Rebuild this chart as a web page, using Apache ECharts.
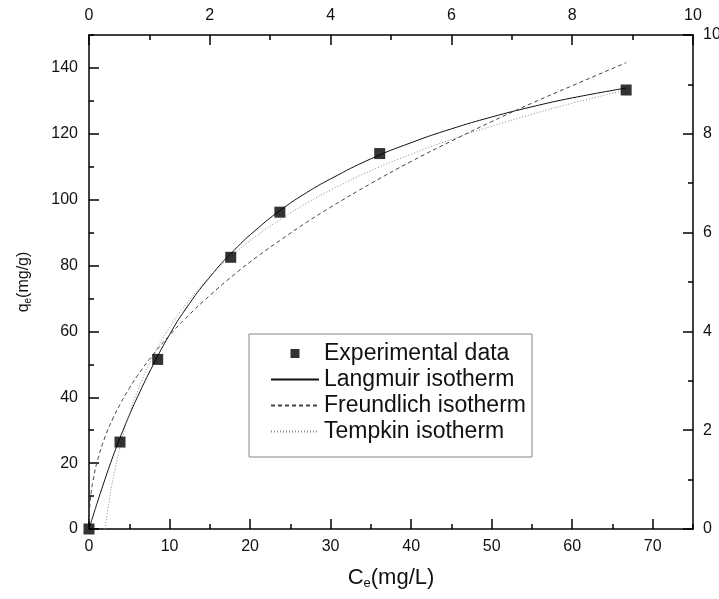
<!DOCTYPE html>
<html>
<head>
<meta charset="utf-8">
<script src="https://cdn.jsdelivr.net/npm/echarts@6/dist/echarts.min.js"></script>
<style>html,body{margin:0;padding:0;background:#fff}#c{width:719px;height:599px}</style>
</head>
<body>
<div id="c"></div>
<script>
// Experimental points
const expC = [0, 3.85, 8.53, 17.6, 23.7, 36.1, 66.7];
const expQ = [0, 26.4, 51.5, 82.5, 96.2, 114.0, 133.3];
// Fitted curves
const fitC = [0, 0.1, 0.25, 0.5, 1, 2, 3, 4, 5, 6, 8, 10, 12, 15, 18, 21, 24, 27, 30, 35, 40, 45, 50, 55, 60, 66.7];
const langmuirQ = [0, 0.8, 2.0, 3.9, 7.8, 15.2, 22.2, 28.6, 34.5, 40.0, 50.0, 59.0, 66.8, 76.5, 84.6, 91.4, 97.2, 102.1, 106.3, 112.4, 117.3, 121.5, 125.1, 128.2, 130.9, 133.9];
const freundlichQ = [0, 7.0, 10.7, 14.7, 20.3, 28.0, 33.7, 38.5, 42.7, 46.5, 53.1, 58.8, 64.0, 70.9, 77.2, 82.9, 88.1, 93.1, 97.7, 104.9, 111.6, 117.8, 123.7, 129.3, 134.6, 141.6];
const tempkinC = [2, 2.5, 3, 4, 5, 6, 8, 10, 12, 15, 18, 21, 24, 27, 30, 35, 40, 45, 50, 55, 60, 66.7];
const tempkinQ = [0, 8.5, 15.4, 26.3, 34.8, 41.7, 52.7, 61.2, 68.1, 76.6, 83.5, 89.4, 94.4, 98.9, 102.9, 108.8, 113.8, 118.3, 122.3, 125.9, 129.3, 133.3];
const seriesNames = ['Experimental data', 'Langmuir isotherm', 'Freundlich isotherm', 'Tempkin isotherm'];

const FONT = '"Liberation Sans", Arial, sans-serif';
const pair = (xs, ys) => xs.map((x, i) => [x, ys[i]]);
const axisLine = { show: true, onZero: false, lineStyle: { color: '#000', width: 1.5 } };
const majorTick = { show: true, inside: true, length: 10, lineStyle: { color: '#000', width: 1.5 } };
const minorTickAxis = { show: true, inside: true, length: 5, lineStyle: { color: '#000', width: 1.5 } };
const label = (margin, extra) => Object.assign({ margin, fontSize: 16, color: '#111', fontFamily: FONT }, extra || {});

const chart = echarts.init(document.getElementById('c'), null, { renderer: 'canvas' });
chart.setOption({
  animation: false,
  backgroundColor: '#fff',
  grid: { left: 89, right: 26, top: 35, bottom: 70, containLabel: false, outerBoundsMode: 'none' },
  legend: {
    orient: 'vertical', left: 249, top: 334,
    padding: [8, 6, 14, 21], itemGap: 3, itemWidth: 48, itemHeight: 9, itemTextGap: 9,
    borderColor: '#888', borderWidth: 1, backgroundColor: '#fff',
    textStyle: { fontSize: 23, lineHeight: 23, color: '#111', fontFamily: FONT },
    data: [
      { name: seriesNames[0], icon: 'path://M0,0h10v10h-10z' },
      { name: seriesNames[1] },
      { name: seriesNames[2] },
      { name: seriesNames[3] }
    ]
  },
  xAxis: [
    {
      type: 'value', position: 'bottom', min: 0, max: 75, interval: 10,
      axisLine, axisTick: majorTick, splitLine: { show: false },
      axisLabel: label(10, { showMaxLabel: false }),
      name: '{a|C}{s|e}{a|(mg/L)}', nameLocation: 'middle', nameGap: 37,
      nameTextStyle: { rich: {
        a: { fontSize: 22, color: '#111', fontFamily: FONT },
        s: { fontSize: 13, color: '#111', fontFamily: FONT, padding: [11, 0, 0, 0] }
      } }
    },
    {
      type: 'value', position: 'top', min: 0, max: 10, interval: 2,
      axisLine, axisTick: majorTick, splitLine: { show: false },
      minorTick: { show: true, splitNumber: 2, length: 5, lineStyle: { color: '#000', width: 1.5 } },
      minorSplitLine: { show: false },
      axisLabel: label(11)
    },
    {
      type: 'value', position: 'bottom', min: 0, max: 75, interval: 5,
      axisLine: { show: false, onZero: false }, axisTick: minorTickAxis,
      axisLabel: { show: false }, splitLine: { show: false }
    }
  ],
  yAxis: [
    {
      type: 'value', position: 'left', min: 0, max: 150, interval: 20,
      axisLine, axisTick: majorTick, splitLine: { show: false },
      axisLabel: label(11, { showMaxLabel: false }),
      name: '{a|q}{s|e}{a|(mg/g)}', nameLocation: 'middle', nameGap: 56, nameRotate: 90,
      nameTextStyle: { rich: {
        a: { fontSize: 16, color: '#111', fontFamily: FONT },
        s: { fontSize: 10, color: '#111', fontFamily: FONT, padding: [9, 0, 0, 0] }
      } }
    },
    {
      type: 'value', position: 'right', min: 0, max: 10, interval: 2,
      axisLine, axisTick: majorTick, splitLine: { show: false },
      minorTick: { show: true, splitNumber: 2, length: 5, lineStyle: { color: '#000', width: 1.5 } },
      minorSplitLine: { show: false },
      axisLabel: label(10)
    },
    {
      type: 'value', position: 'left', min: 0, max: 150, interval: 10,
      axisLine: { show: false, onZero: false }, axisTick: minorTickAxis,
      axisLabel: { show: false }, splitLine: { show: false }
    }
  ],
  series: [
    {
      name: seriesNames[1], type: 'line', xAxisIndex: 0, yAxisIndex: 0,
      data: pair(fitC, langmuirQ), smooth: true, symbol: 'none', showSymbol: false,
      itemStyle: { color: 'rgba(0,0,0,0)' },
      lineStyle: { color: '#111', width: 1, type: 'solid' }, z: 3
    },
    {
      name: seriesNames[2], type: 'line', xAxisIndex: 0, yAxisIndex: 0,
      data: pair(fitC, freundlichQ), smooth: true, symbol: 'none', showSymbol: false,
      itemStyle: { color: 'rgba(0,0,0,0)' },
      lineStyle: { color: '#444', width: 1, type: [4, 3] }, z: 3
    },
    {
      name: seriesNames[3], type: 'line', xAxisIndex: 0, yAxisIndex: 0,
      data: pair(tempkinC, tempkinQ), smooth: true, symbol: 'none', showSymbol: false,
      itemStyle: { color: 'rgba(0,0,0,0)' },
      lineStyle: { color: '#888', width: 1, type: [1, 2] }, z: 3
    },
    {
      name: seriesNames[0], type: 'scatter', xAxisIndex: 0, yAxisIndex: 0,
      data: pair(expC, expQ), symbol: 'rect', symbolSize: 11,
      itemStyle: { color: '#000' }, z: 4
    }
  ]
});
</script>
</body>
</html>
